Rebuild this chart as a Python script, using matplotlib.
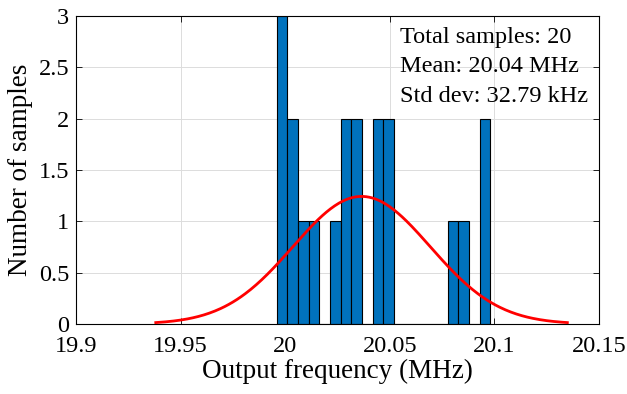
import matplotlib
matplotlib.use("Agg")
import matplotlib.pyplot as plt
import numpy as np

plt.rcParams['font.family'] = ['Liberation Serif', 'DejaVu Serif']
plt.rcParams['mathtext.fontset'] = 'stix'

# histogram (20 bins)
bin_start = 19.9959
bin_width = 0.005107
counts = [3, 2, 1, 1, 0, 1, 2, 2, 0, 2, 2, 0, 0, 0, 0, 0, 1, 1, 0, 2]

# normal fit parameters shown in the annotation
n_samples = 20
mean_mhz = 20.0365
std_mhz = 0.03279

xticks = [19.9, 19.95, 20, 20.05, 20.1, 20.15]
xticklabels = ['19.9', '19.95', '20', '20.05', '20.1', '20.15']
yticks = [0, 0.5, 1, 1.5, 2, 2.5, 3]
yticklabels = ['0', '0.5', '1', '1.5', '2', '2.5', '3']

fig = plt.figure(figsize=(6.27, 3.94), dpi=100)
ax = fig.add_axes([76/627, 1-324/394, 523/627, 308/394])

edges = bin_start + bin_width*np.arange(len(counts))
ax.bar(edges, counts, width=bin_width, align='edge', color='#0072BD',
       edgecolor='black', linewidth=0.8, zorder=2)

# fitted normal curve over mean +/- 3 std
xf = np.linspace(mean_mhz - 3*std_mhz, mean_mhz + 3*std_mhz, 300)
yf = n_samples*bin_width/(std_mhz*np.sqrt(2*np.pi))*np.exp(-0.5*((xf-mean_mhz)/std_mhz)**2)
ax.plot(xf, yf, color='#FF0000', linewidth=2, zorder=3)

ax.set_xlim(19.9, 20.15)
ax.set_ylim(0, 3)
ax.set_xticks(xticks)
ax.set_xticklabels(xticklabels)
ax.set_yticks(yticks)
ax.set_yticklabels(yticklabels)
ax.grid(True, color='#dcdcdc', linewidth=0.7, zorder=0)
ax.set_axisbelow(True)
ax.tick_params(direction='in', top=True, right=True, length=4, width=0.6,
               labelsize=17.5, pad=9)
ax.tick_params(axis='y', pad=5)
for s in ax.spines.values():
    s.set_linewidth(0.8)
ax.set_xlabel('Output frequency (MHz)', fontsize=19.5, labelpad=1)
ax.set_ylabel('Number of samples', fontsize=19.5, labelpad=4)

ax.text(0.6195, 0.964, 'Total samples: 20\nMean: 20.04 MHz\nStd dev: 32.79 kHz',
        transform=ax.transAxes, ha='left', va='top', fontsize=17.5,
        linespacing=1.52, zorder=4)

fig.savefig('out.png', dpi=100)
